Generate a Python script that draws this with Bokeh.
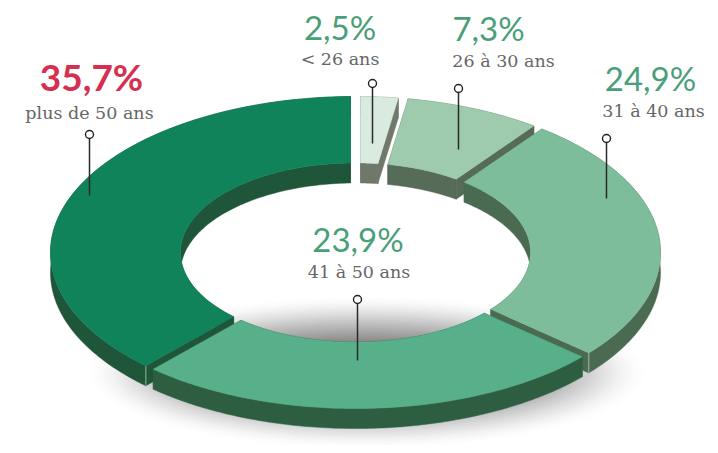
import numpy as np
from bokeh.plotting import figure
from bokeh.embed import file_html
from bokeh.resources import INLINE
from bokeh.core.properties import value

# Data as printed on the chart
age_groups = ["< 26 ans", "26 à 30 ans", "31 à 40 ans", "41 à 50 ans", "plus de 50 ans"]
printed_shares = ["2,5%", "7,3%", "24,9%", "23,9%", "35,7%"]
# Share of the ring each slice actually covers in the picture (percent)
ring_extent = [2.5, 7.7, 26.2, 25.4, 38.2]

top_colors = ["#D9EADF", "#9ECBAE", "#7EBD9B", "#57B089", "#10835A"]
wall_colors = ["#70786A", "#566B58", "#4A6A52", "#2E5E42", "#1F5639"]
share_colors = ["#4A9E78", "#4A9E78", "#4A9E78", "#4A9E78", "#D62F50"]
draw_order = [0, 1, 4, 2, 3]

# Layout (pixels of the reference)
CX, CY, RX, RY = 355.0, 252.0, 305.0, 156.0
INNER, DEPTH, GAP = 0.574, 20.0, 0.0164
share_xy = [(339.5, 26), (488, 27), (650, 77), (357.5, 238), (91, 76)]
label_xy = [(339.5, 58), (503, 60), (653, 110), (358.5, 271), (89, 112)]
pin_xy = [(372, 83, 143), (458, 88, 149), (606, 138, 198), (357, 299, 360), (89, 134, 195)]

p = figure(width=710, height=445, x_range=(0, 710), y_range=(445, 0),
           output_backend="svg", toolbar_location=None, min_border=0,
           background_fill_color="white", border_fill_color="white", outline_line_color=None)
p.axis.visible = False
p.grid.visible = False

# Soft shadow beneath the ring
n = 40
for i in range(n):
    t = i / (n - 1)
    p.ellipse(x=[366], y=[372], width=[2 * (278 - 120 * t)], height=[2 * (76 - 46 * t)],
              fill_color="#5A5050", fill_alpha=0.006 + 0.04 * t, line_color=None)


def slice_arcs(a1, a2):
    def arc(r):
        d = np.arcsin(GAP / r)
        a = np.linspace(a1 + d, a2 - d, 120)
        return CX + RX * r * np.sin(a), CY - RY * r * np.cos(a)
    return arc(1.0), arc(INNER)


edges = np.r_[0, np.cumsum(ring_extent)] / 100 * 2 * np.pi
for i in draw_order:
    (xo, yo), (xi, yi) = slice_arcs(edges[i], edges[i + 1])
    walls_x = [np.r_[xo, xo[::-1]], np.r_[xi, xi[::-1]],
               [xo[0], xi[0], xi[0], xo[0]], [xo[-1], xi[-1], xi[-1], xo[-1]]]
    walls_y = [np.r_[yo, yo[::-1] + DEPTH], np.r_[yi, yi[::-1] + DEPTH],
               [yo[0], yi[0], yi[0] + DEPTH, yo[0] + DEPTH],
               [yo[-1], yi[-1], yi[-1] + DEPTH, yo[-1] + DEPTH]]
    for wx, wy in zip(walls_x, walls_y):
        p.patch(wx, wy, fill_color=wall_colors[i], line_color=wall_colors[i], line_width=0.5)
    # pale highlight on the two outer corners that face the viewer
    if i == 4:
        p.line([xo[0], xo[0]], [yo[0], yo[0] + DEPTH], line_color="#8FB5A3", line_width=1)
    if i == 2:
        p.line([xo[-1], xo[-1]], [yo[-1], yo[-1] + DEPTH], line_color="#A3B8AB", line_width=1)
    p.patch(np.r_[xo, xi[::-1]], np.r_[yo, yi[::-1]], fill_color=top_colors[i],
            line_color=top_colors[i], line_width=0.5)

# Leader pins
for px, y0, y1 in pin_xy:
    p.line([px, px], [y0, y1], line_color="#2A2A2A", line_width=1.5)
    p.scatter([px], [y0], size=8, marker="circle", fill_color="white",
              line_color="#222222", line_width=1.4)

# Texts
for i in range(5):
    sx, sy = share_xy[i]
    lx, ly = label_xy[i]
    p.text([sx], [sy], text=[printed_shares[i]], text_align="center", text_baseline="alphabetic",
           text_font=value("Lato"), text_font_size="37px" if i == 4 else "33px",
           text_color=share_colors[i], text_font_style="bold" if i == 4 else "normal")
    p.text([lx], [ly], text=[age_groups[i]], text_align="center", text_baseline="alphabetic",
           text_font=value("DejaVu Serif"), text_font_size="17.5px", text_color="#666666")

open("out.html", "w").write(file_html(p, INLINE))
